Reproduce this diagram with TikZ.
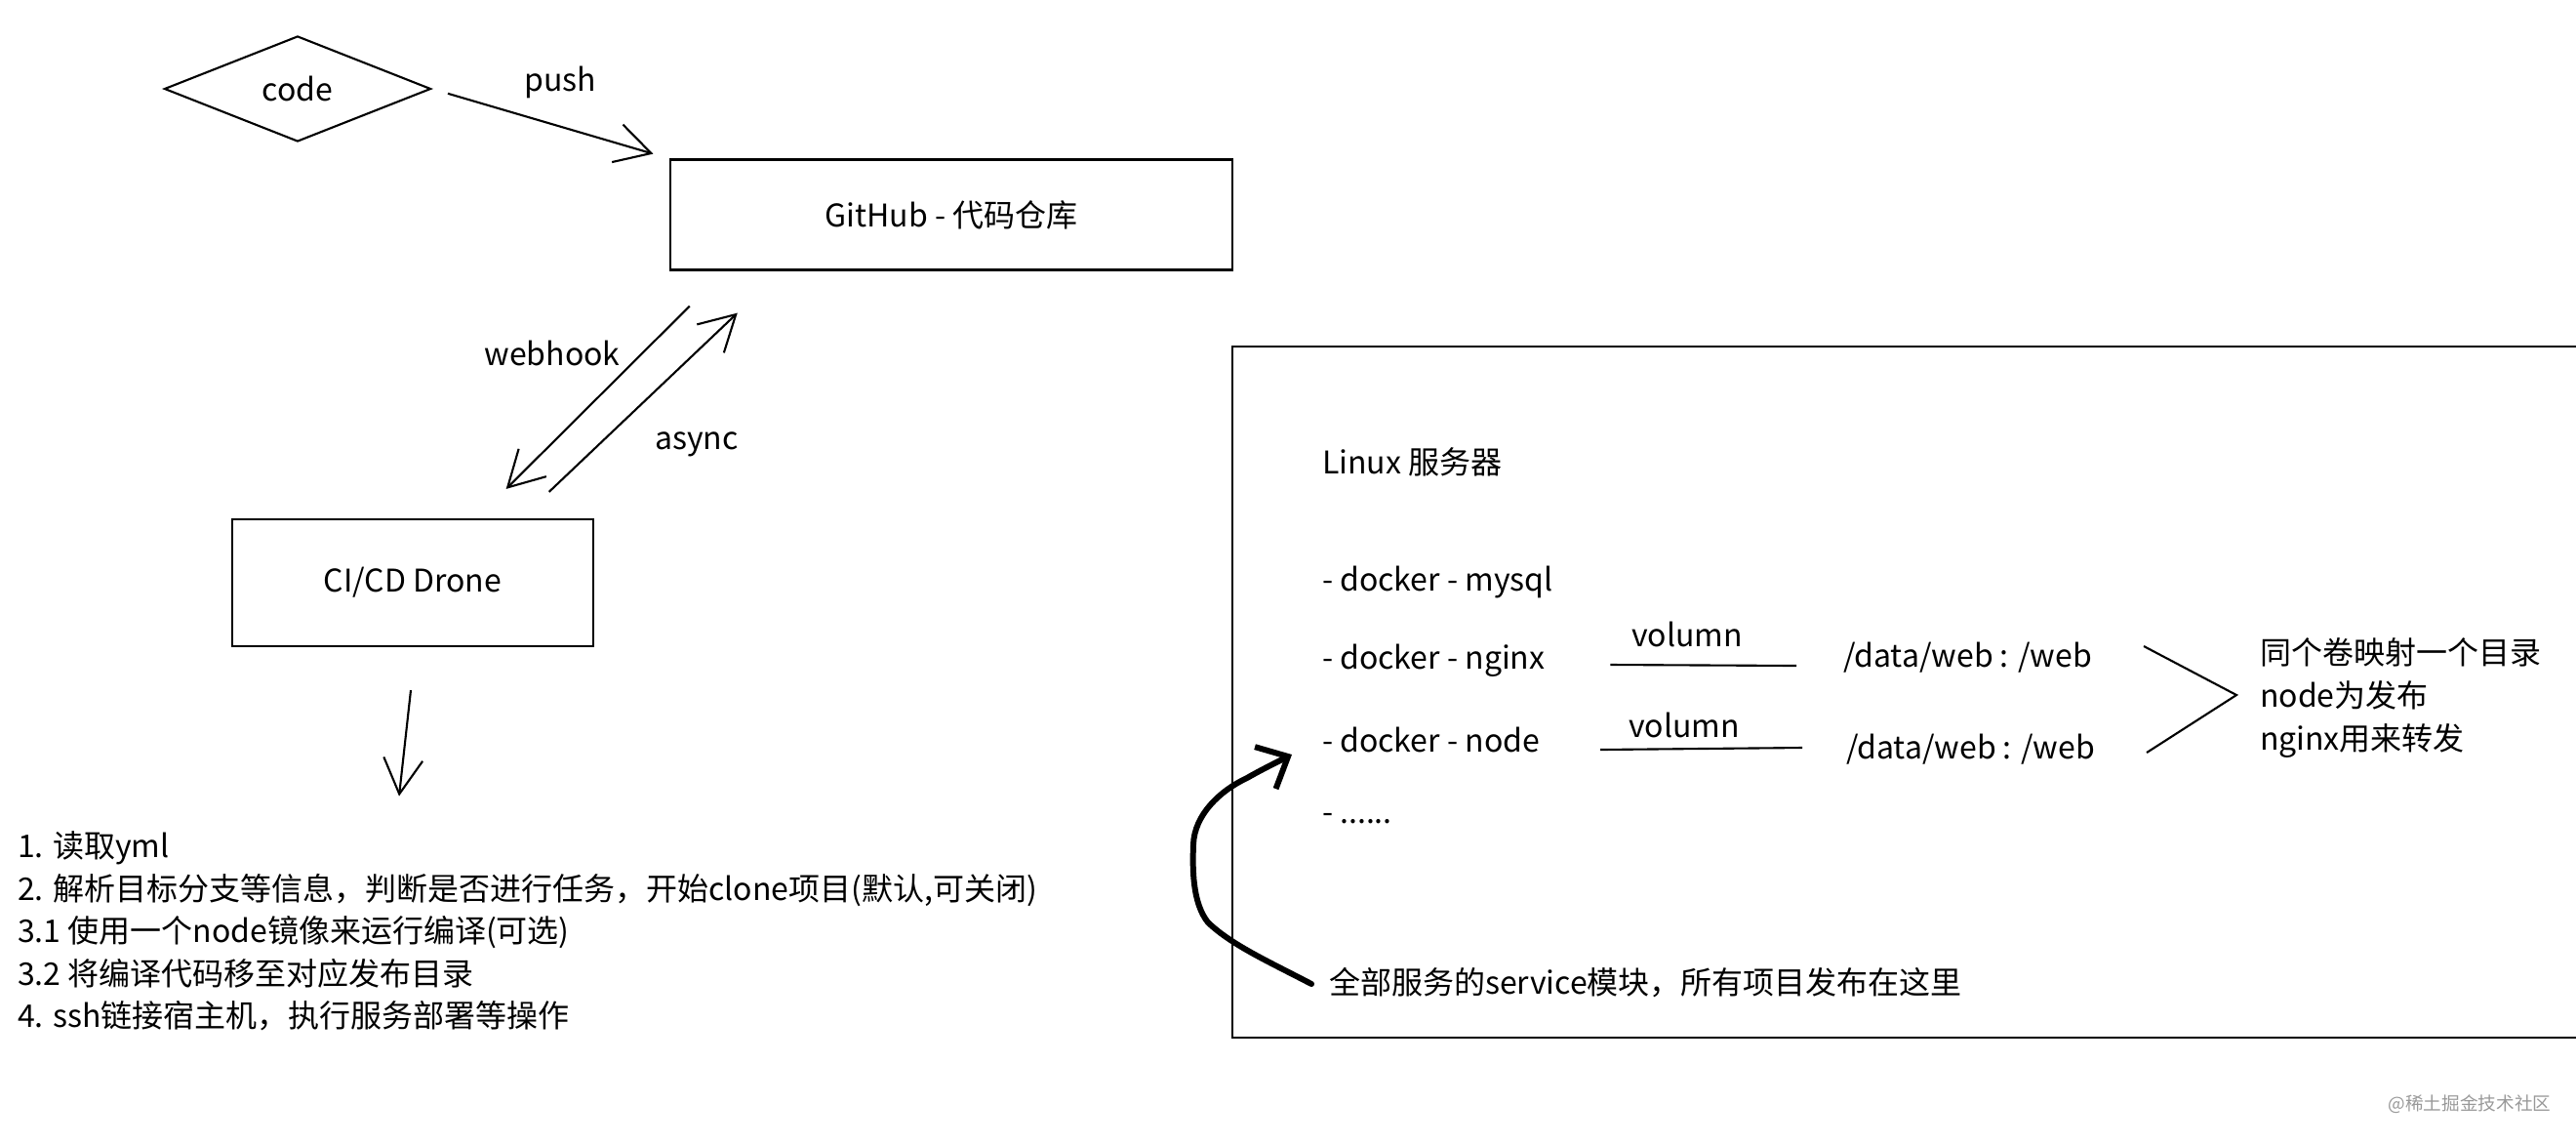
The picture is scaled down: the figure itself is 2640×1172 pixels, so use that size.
\documentclass[tikz,border=0pt]{standalone}
\usepackage{fontspec}
\setmainfont{Noto Sans CJK SC}
\usetikzlibrary{arrows.meta, shapes.geometric}
\def\basefont{\fontsize{9.1}{12.4}\selectfont}

\begin{document}
\begin{tikzpicture}[x=0.01cm,y=-0.01cm,line width=0.6pt]
    \tikzstyle{every node}=[font=\basefont, inner sep=0pt]
    \tikzstyle{box}=[draw=black, rectangle]
    \tikzstyle{decision}=[draw=black, diamond, aspect=2.5, minimum width=2.73cm, minimum height=1.08cm]
    \tikzstyle{sketch}=[-{Straight Barb[length=3.6mm,width=4mm]}]
    \tikzstyle{bold sketch}=[line width=1.7pt, line cap=round, -{Straight Barb[length=2.6mm,width=4.8mm]}]
    \tikzstyle{text left}=[anchor=west, align=left]
    \useasboundingbox (0,0) rectangle (2640,1172);

    \node[decision] (code) at (305,91) {code};
    \node[box, minimum width=5.76cm, minimum height=1.13cm] (github) at (975,220) {GitHub - 代码仓库};
    \node[box, minimum width=3.69cm, minimum height=1.3cm] (drone) at (423,597) {CI/CD Drone};

    \node (push) at (574,84) {push};
    \node (webhook) at (566,362) {webhook};
    \node (async) at (714,455) {async};

    \node[text left] (steps) at (17,954) {1. 读取yml\\2. 解析目标分支等信息，判断是否进行任务，开始clone项目(默认,可关闭)\\3.1 使用一个node镜像来运行编译(可选)\\3.2 将编译代码移至对应发布目录\\4. ssh链接宿主机，执行服务部署等操作};

    \path[draw, sketch, shorten <=0.17cm, shorten >=0.17cm] (code.east) -- (github.north west);
    \draw[sketch] ([shift={(21,36)}]github.south west) -- ([shift={(-90,-30)}]drone.north east);
    \draw[sketch] ([shift={(-46,-27)}]drone.north east) -- ([shift={(70,43)}]github.south west);
    \draw[sketch] ([shift={(-2,44)}]drone.south) -- ([shift={(392,-35)}]steps.north west);

%   server
    \draw (2640,355) -- (1263,355) -- (1263,1063) -- (2640,1063);
    \node[text left] (linux) at (1354,473) {Linux 服务器};

    \foreach \x/\t in {0/mysql,1/nginx,2/node}{
        \pgfmathsetmacro\y{596+\x*81}
        \node[text left] (D-\x) at (1354,\y) {- docker - \t};
    }
    \node[text left] (D-3) at (1354,839) {- ......};

    \node[text left] (data-1) at (1888,674) {/data/web : /web};
    \node[text left] (data-2) at (1891,768) {/data/web : /web};
    \node (volumn-1) at (1729,650) {volumn};
    \node (volumn-2) at (1726,743) {volumn};

    \draw ([shift={(66,4)}]D-1.east) -- ([shift={(-47,8)}]data-1.west);
    \draw ([shift={(61,10)}]D-2.east) -- ([shift={(-44,-2)}]data-2.west);

    \node[text left] (publish) at (2315,715) {同个卷映射一个目录\\node为发布\\nginx用来转发};
    \coordinate (join) at ([shift={(-23,-3)}]publish.west);
    \draw ([shift={(52,-12)}]data-1.east) -- (join) -- ([shift={(52,3)}]data-2.east);

    \node[text left] (service) at (1361,1007) {全部服务的service模块，所有项目发布在这里};
    \draw[bold sketch] ([shift={(-17,1)}]service.west)
        .. controls (1300,985) and (1262,968) .. (1238,945)
        .. controls (1222,925) and (1222,890) .. (1223,865)
        .. controls (1224,835) and (1250,810) .. (1278,797)
        .. controls (1290,790) and (1310,780) .. ([shift={(-30,15)}]D-2.west);

    \node[text=black!40, font=\fontsize{5.3}{6}\selectfont] (mark) at (2531,1131) {@稀土掘金技术社区};
\end{tikzpicture}
\end{document}
